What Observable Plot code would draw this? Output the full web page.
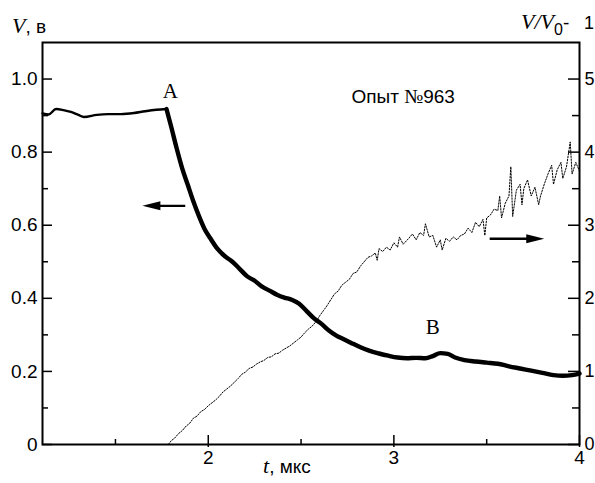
<!DOCTYPE html>
<html><head><meta charset="utf-8">
<script src="https://cdn.jsdelivr.net/npm/d3@7"></script>
<script src="https://cdn.jsdelivr.net/npm/@observablehq/plot@0.6"></script>
<style>body{margin:0;background:#fff} svg{display:block}</style>
</head><body><div id="chart"></div>
<script>
// V(t), plateau before point A
const tFlat = [1.107, 1.14, 1.18, 1.22, 1.26, 1.30, 1.33, 1.40, 1.46, 1.53, 1.60, 1.66, 1.72, 1.775];
const vFlat = [0.906, 0.903, 0.918, 0.915, 0.910, 0.902, 0.896, 0.902, 0.904, 0.904, 0.907, 0.912, 0.916, 0.918];
// V(t), decay after A
const tDecay = [1.775,1.80,1.83,1.86,1.89,1.92,1.95,1.98,2.01,2.05,2.09,2.13,2.17,2.21,2.25,2.29,2.33,2.37,2.41,2.45,2.49,2.53,2.57,2.61,2.65,2.69,2.73,2.77,2.82,2.87,2.92,2.97,3.02,3.07,3.12,3.17,3.21,3.25,3.29,3.33,3.38,3.44,3.50,3.56,3.62,3.68,3.74,3.80,3.86,3.91,3.96,4.00];
const vDecay = [0.918,0.870,0.810,0.755,0.710,0.665,0.625,0.590,0.565,0.535,0.515,0.500,0.480,0.460,0.448,0.432,0.421,0.410,0.402,0.396,0.385,0.365,0.345,0.330,0.312,0.298,0.288,0.278,0.266,0.256,0.249,0.243,0.238,0.236,0.237,0.236,0.242,0.250,0.248,0.238,0.231,0.227,0.224,0.221,0.214,0.208,0.202,0.196,0.190,0.188,0.190,0.194];
// V/V0 - 1 (right axis)
const tRatio = [1.785,1.80,1.82,1.84,1.86,1.88,1.90,1.92,1.94,1.96,1.98,2.00,2.02,2.04,2.06,2.08,2.10,2.12,2.14,2.16,2.18,2.20,2.22,2.24,2.26,2.28,2.30,2.32,2.34,2.36,2.38,2.40,2.42,2.44,2.46,2.48,2.50,2.52,2.54,2.56,2.58,2.60,2.62,2.64,2.66,2.68,2.70,2.72,2.74,2.76,2.78,2.80,2.82,2.84,2.86,2.88,2.90,2.91,2.92,2.94,2.96,2.98,3.00,3.02,3.03,3.05,3.08,3.10,3.12,3.14,3.16,3.17,3.19,3.21,3.23,3.25,3.26,3.28,3.30,3.32,3.34,3.36,3.38,3.40,3.42,3.44,3.46,3.48,3.49,3.50,3.52,3.54,3.56,3.57,3.58,3.60,3.62,3.63,3.64,3.66,3.68,3.69,3.70,3.72,3.74,3.76,3.78,3.79,3.81,3.83,3.85,3.86,3.88,3.90,3.91,3.93,3.95,3.96,3.98,4.00];
const rRatio = [0.00,0.05,0.09,0.15,0.19,0.25,0.29,0.36,0.39,0.45,0.48,0.53,0.57,0.61,0.66,0.72,0.76,0.80,0.85,0.90,0.96,0.99,1.04,1.06,1.10,1.13,1.15,1.19,1.20,1.24,1.25,1.29,1.32,1.35,1.39,1.43,1.47,1.53,1.58,1.62,1.68,1.76,1.83,1.90,1.98,2.06,2.10,2.18,2.22,2.26,2.34,2.36,2.44,2.50,2.56,2.58,2.62,2.52,2.68,2.64,2.70,2.66,2.76,2.70,2.84,2.74,2.82,2.88,2.80,2.90,2.86,3.02,2.84,2.86,2.70,2.80,2.66,2.82,2.78,2.84,2.80,2.86,2.88,2.96,2.90,3.04,2.98,3.08,2.86,3.10,3.14,3.22,3.20,3.40,3.10,3.30,3.40,3.80,3.12,3.48,3.56,3.28,3.50,3.62,3.40,3.52,3.28,3.40,3.56,3.70,3.82,3.56,3.76,3.86,3.64,3.80,4.14,3.70,3.86,3.74];

const xTicks = [2, 3, 4];
const xMinor = [1.5, 2.5, 3.5];
const vTicks = [0, 0.2, 0.4, 0.6, 0.8, 1.0];
const vMinor = [0.1, 0.3, 0.5, 0.7, 0.9];
const rTicks = [0, 1, 2, 3, 4, 5];
const rMinor = [0.5, 1.5, 2.5, 3.5, 4.5];
const ratioPerVolt = 5;   // right axis 5 <-> left axis 1.0

// annotations
const arrowLeft = [{t1: 1.876, t2: 1.645, v: 0.653}];
const arrowRight = [{t1: 3.516, t2: 3.81, v: 0.563}];
const labels = [{t: 1.796, v: 0.967, text: "A"}, {t: 3.21, v: 0.320, text: "B"}];
const note = {t: 2.774, v: 0.952};

const flat = tFlat.map((t, i) => ({t, v: vFlat[i]}));
const decay = tDecay.map((t, i) => ({t, v: vDecay[i]}));
const ratio = tRatio.map((t, i) => ({t, r: rRatio[i]}));

const W = 595, H = 483, mL = 42, mR = 16, mT = 42, mB = 39;
const innerW = W - mL - mR, innerH = H - mT - mB;
const sans = "Liberation Sans, Arial, sans-serif";
const serif = "Liberation Serif, Times New Roman, serif";

const head = {
  draw(ctx, size) {
    const r = Math.sqrt(size / Math.PI);
    ctx.moveTo(0, 0);
    ctx.lineTo(-2 * r, -0.5 * r);
    ctx.lineTo(-2 * r, 0.5 * r);
    ctx.closePath();
  }
};

const chart = Plot.plot({
  width: W, height: H,
  marginLeft: mL, marginRight: mR, marginTop: mT, marginBottom: mB,
  x: {domain: [1.107, 4], axis: null},
  y: {domain: [0, 1.1], axis: null},
  style: {background: "#fff"},
  marks: [
    // ratio curve (dotted)
    Plot.line(ratio, {x: "t", y: d => d.r / ratioPerVolt, stroke: "#000", strokeWidth: 1, strokeDasharray: "1.5 1.5"}),
    // V curve
    Plot.line(flat, {x: "t", y: "v", stroke: "#000", strokeWidth: 2.4, curve: "monotone-x"}),
    Plot.line(decay, {x: "t", y: "v", stroke: "#000", strokeWidth: 4.4, strokeLinejoin: "round", curve: "monotone-x"}),
    // arrows
    Plot.link(arrowLeft, {x1: "t1", x2: d => d.t2 + 0.04, y1: "v", y2: "v", stroke: "#000", strokeWidth: 2.4}),
    Plot.dot(arrowLeft, {x: "t2", y: "v", symbol: head, r: 9, fill: "#000", stroke: null, rotate: 180}),
    Plot.link(arrowRight, {x1: "t1", x2: d => d.t2 - 0.04, y1: "v", y2: "v", stroke: "#000", strokeWidth: 2.4}),
    Plot.dot(arrowRight, {x: "t2", y: "v", symbol: head, r: 9, fill: "#000", stroke: null}),
    // labels A, B
    Plot.text(labels, {x: "t", y: "v", text: "text", fontFamily: serif, fontSize: 21, fill: "#000"}),
    // frame
    Plot.frame({stroke: "#000", strokeWidth: 2}),
    // inward ticks: left
    Plot.tickY(vTicks, {y: d => d, insetRight: innerW - 10, strokeWidth: 1.5}),
    Plot.tickY(vMinor, {y: d => d, insetRight: innerW - 6, strokeWidth: 1.5}),
    // right
    Plot.tickY(rTicks, {y: d => d / ratioPerVolt, insetLeft: innerW - 11, strokeWidth: 1.5}),
    Plot.tickY(rMinor, {y: d => d / ratioPerVolt, insetLeft: innerW - 7, strokeWidth: 1.5}),
    // bottom
    Plot.tickX(xTicks, {x: d => d, insetTop: innerH - 9, insetBottom: -3, strokeWidth: 1.5}),
    Plot.tickX(xMinor, {x: d => d, insetTop: innerH - 5, strokeWidth: 1.5}),
    // tick labels
    Plot.text(vTicks, {y: d => d, frameAnchor: "left", textAnchor: "end", dx: -5, text: d => d === 0 ? "0" : d.toFixed(1), fontFamily: sans, fontSize: 19, fill: "#000"}),
    Plot.text(rTicks, {y: d => d / ratioPerVolt, frameAnchor: "right", textAnchor: "start", dx: 5, text: d => String(d), fontFamily: sans, fontSize: 18, fill: "#000"}),
    Plot.text(xTicks, {x: d => d, frameAnchor: "bottom", dy: 19, text: d => String(d), fontFamily: sans, fontSize: 19, fill: "#000"})
  ]
});

document.getElementById("chart").appendChild(chart);

// mixed-font titles as real SVG text
const svg = d3.select(chart);
const sx = chart.scale("x"), sy = chart.scale("y");

function title(x, y, parts) {
  const t = svg.append("text").attr("x", x).attr("y", y).attr("fill", "#000").attr("text-anchor", "start");
  for (const p of parts) {
    const s = t.append("tspan").text(p.text)
      .attr("font-family", p.serif ? serif : sans)
      .attr("font-size", p.size)
      .attr("font-style", p.italic ? "italic" : "normal");
    if (p.dy) s.attr("dy", p.dy);
    if (p.x != null) s.attr("x", p.x);
  }
}
title(12, 33, [{text: "V", serif: true, italic: true, size: 22}, {text: ", в", size: 19}]);
title(263, 473, [{text: "t", serif: true, italic: true, size: 22}, {text: ", мкс", size: 19}]);
title(521, 29, [
  {text: "V/V", serif: true, italic: true, size: 22},
  {text: "0", size: 16, dy: 6},
  {text: "-", size: 19, dy: -6},
  {text: "1", size: 18, x: 584}
]);
title(sx.apply(note.t), sy.apply(note.v) + 7, [
  {text: "Опыт ", size: 19},
  {text: "№", serif: true, size: 20},
  {text: "963", size: 19}
]);
</script>
</body></html>
